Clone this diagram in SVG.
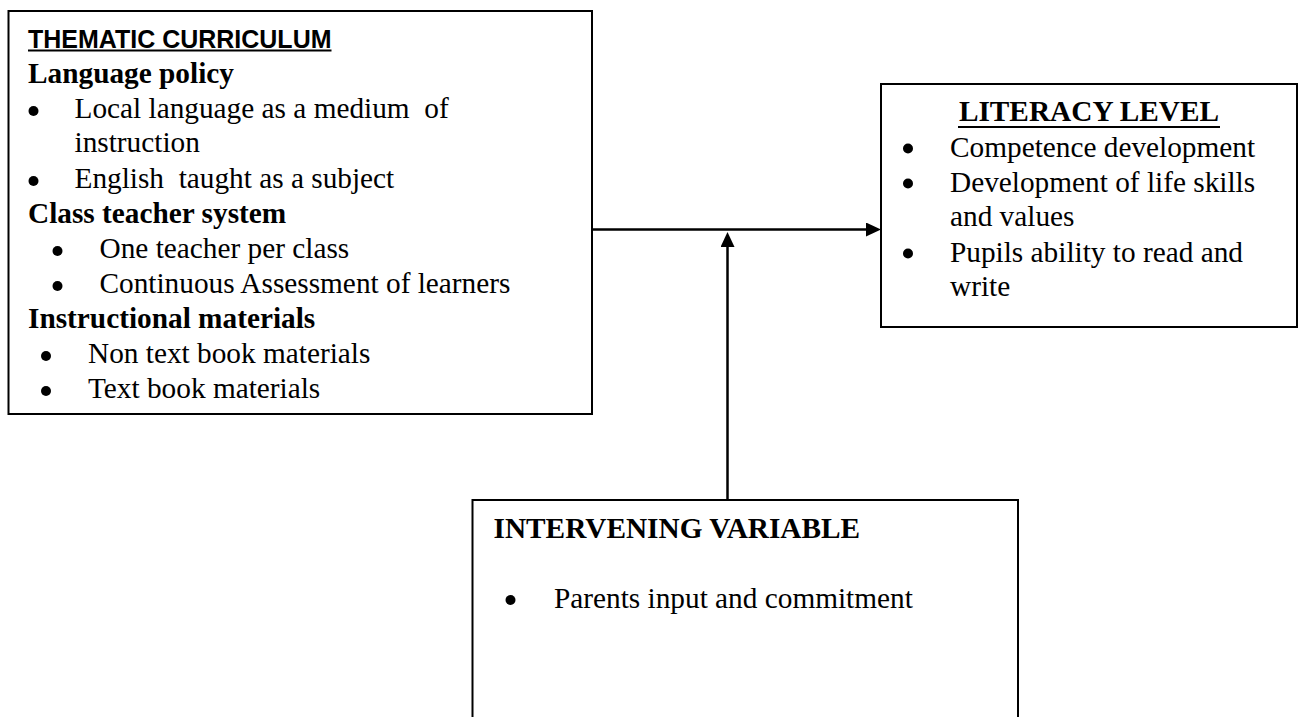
<svg xmlns="http://www.w3.org/2000/svg" width="1298" height="717" viewBox="0 0 1298 717">
  <style>
    .box { fill: #ffffff; stroke: #000000; stroke-width: 2; }
    .t { font-family: "Liberation Serif", "Times New Roman", serif; font-size: 29.3px; fill: #000000; }
    .b { font-weight: bold; }
    .sans { font-family: "Liberation Sans", Arial, sans-serif; font-weight: bold; font-size: 25px; fill: #000000; }
    .ul { stroke: #000000; stroke-width: 2; }
    .dot { fill: #000000; }
    .conn { stroke: #000000; stroke-width: 2.5; fill: none; }
  </style>
  <defs>
    <marker id="arr" viewBox="0 0 15 14" refX="1" refY="7" markerWidth="15" markerHeight="14" orient="auto" markerUnits="userSpaceOnUse">
      <path d="M0,0 L15,7 L0,14 z" fill="#000000"/>
    </marker>
  </defs>
  <rect width="1298" height="717" fill="#ffffff"/>

  <g id="connectors">
    <line class="conn" x1="592" y1="229.5" x2="867" y2="229.5" marker-end="url(#arr)"/>
    <line class="conn" x1="727.5" y1="500" x2="727.5" y2="246" marker-end="url(#arr)"/>
  </g>

  <g id="thematic-curriculum">
    <rect class="box" x="8.5" y="11" width="583.5" height="403"/>
    <text class="sans" x="28" y="48" textLength="303.5" lengthAdjust="spacingAndGlyphs">THEMATIC CURRICULUM</text>
    <line class="ul" x1="28" y1="50.5" x2="331.5" y2="50.5"/>
    <text class="t b" x="28" y="82.5">Language policy</text>
    <circle class="dot" cx="33.5" cy="111" r="5"/>
    <text class="t" x="74.5" y="118" xml:space="preserve">Local language as a medium  of</text>
    <text class="t" x="74.5" y="152">instruction</text>
    <circle class="dot" cx="33.5" cy="181" r="5"/>
    <text class="t" x="74.5" y="188" xml:space="preserve">English  taught as a subject</text>
    <text class="t b" x="28" y="222.5">Class teacher system</text>
    <circle class="dot" cx="57.5" cy="251" r="5"/>
    <text class="t" x="99.5" y="258">One teacher per class</text>
    <circle class="dot" cx="57.5" cy="286" r="5"/>
    <text class="t" x="99.5" y="293">Continuous Assessment of learners</text>
    <text class="t b" x="28" y="328">Instructional materials</text>
    <circle class="dot" cx="46" cy="356" r="5"/>
    <text class="t" x="88" y="363">Non text book materials</text>
    <circle class="dot" cx="46" cy="391" r="5"/>
    <text class="t" x="88" y="398">Text book materials</text>
  </g>

  <g id="literacy-level">
    <rect class="box" x="881" y="84" width="416" height="243"/>
    <text class="t b" x="1089" y="121" text-anchor="middle">LITERACY LEVEL</text>
    <line class="ul" x1="958" y1="127" x2="1220" y2="127"/>
    <circle class="dot" cx="908" cy="148.5" r="5"/>
    <text class="t" x="950" y="157">Competence development</text>
    <circle class="dot" cx="908" cy="183.5" r="5"/>
    <text class="t" x="950" y="192">Development of life skills</text>
    <text class="t" x="950" y="226">and values</text>
    <circle class="dot" cx="908" cy="253.5" r="5"/>
    <text class="t" x="950" y="262">Pupils ability to read and</text>
    <text class="t" x="950" y="296">write</text>
  </g>

  <g id="intervening-variable">
    <rect class="box" x="472.5" y="500" width="545.5" height="240"/>
    <text class="t b" x="493.5" y="538">INTERVENING VARIABLE</text>
    <circle class="dot" cx="510.5" cy="600" r="5"/>
    <text class="t" x="554" y="608">Parents input and commitment</text>
  </g>
</svg>
